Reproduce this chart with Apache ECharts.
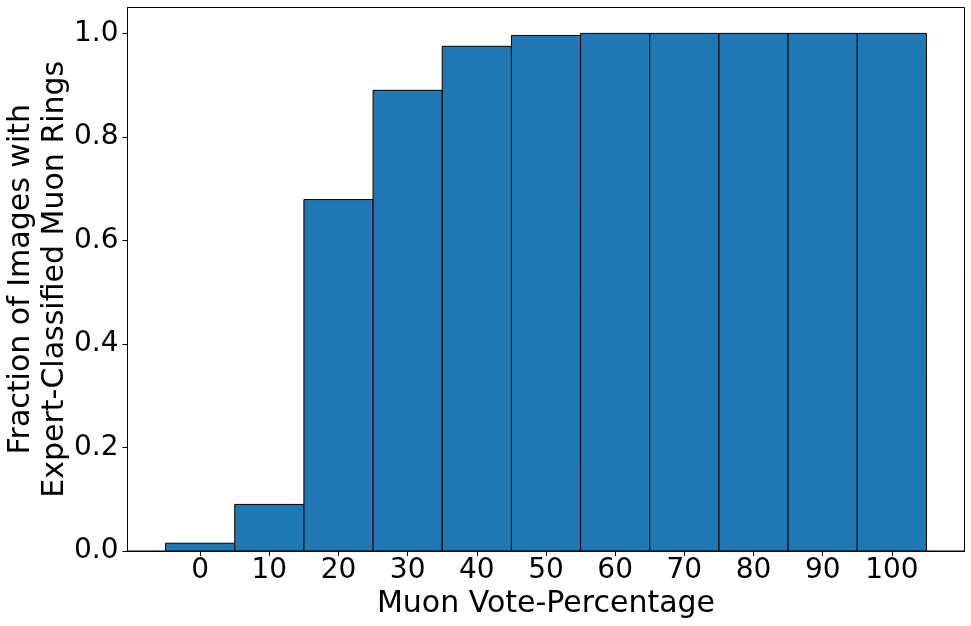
<!DOCTYPE html>
<html>
<head>
<meta charset="utf-8">
<script src="https://cdn.jsdelivr.net/npm/echarts@6/dist/echarts.min.js"></script>
<style>
html,body{margin:0;padding:0;background:#fff;}
#chart{width:971px;height:626px;}
</style>
</head>
<body>
<div id="chart"></div>
<script>
// Data
const votePercent = [0, 10, 20, 30, 40, 50, 60, 70, 80, 90, 100];
const fraction = [0.015, 0.090, 0.679, 0.890, 0.975, 0.996, 1.0, 1.0, 1.0, 1.0, 1.0];
const xTicks = [0, 10, 20, 30, 40, 50, 60, 70, 80, 90, 100];
const yTicks = [0, 0.2, 0.4, 0.6, 0.8, 1.0];
const binWidth = 10;

const chart = echarts.init(document.getElementById('chart'), null, {renderer: 'canvas'});
const font = 'DejaVu Sans';
chart.setOption({
  animation: false,
  backgroundColor: '#fff',
  grid: {left: 127.5, right: 6.5, top: 7.5, bottom: 75, containLabel: false, outerBoundsMode: 'none',
    show: true, borderColor: '#000', borderWidth: 1, backgroundColor: 'transparent'},
  xAxis: {
    type: 'value', min: -10.5, max: 110.5,
    name: 'Muon Vote-Percentage', nameLocation: 'middle', nameGap: 38, nameMoveOverlap: false,
    nameTextStyle: {fontFamily: font, fontSize: 30, color: '#000'},
    axisLine: {show: true, onZero: false, lineStyle: {color: '#000', width: 1}},
    axisTick: {show: true, inside: false, length: 5, customValues: xTicks, lineStyle: {color: '#000'}},
    axisLabel: {customValues: xTicks, fontFamily: font, fontSize: 28, color: '#000', margin: 6},
    splitLine: {show: false}
  },
  yAxis: {
    type: 'value', min: 0, max: 1.05,
    name: 'Fraction of Images with\nExpert-Classified Muon Rings', nameLocation: 'middle', nameGap: 55, nameMoveOverlap: false,
    nameTextStyle: {fontFamily: font, fontSize: 30, color: '#000', lineHeight: 34},
    axisLine: {show: true, onZero: false, lineStyle: {color: '#000', width: 1}},
    axisTick: {show: true, inside: false, length: 5, customValues: yTicks, lineStyle: {color: '#000'}},
    axisLabel: {customValues: yTicks, fontFamily: font, fontSize: 28, color: '#000', margin: 9,
      formatter: v => v.toFixed(1)},
    splitLine: {show: false}
  },
  series: [{
    type: 'custom',
    data: votePercent.map((x, i) => [x, fraction[i]]),
    encode: {x: 0, y: 1},
    renderItem: function (params, api) {
      const x = api.value(0), y = api.value(1);
      const p1 = api.coord([x - binWidth / 2, y]);
      const p2 = api.coord([x + binWidth / 2, 0]);
      return {
        type: 'rect',
        shape: {x: p1[0], y: p1[1], width: p2[0] - p1[0], height: p2[1] - p1[1]},
        style: {fill: '#1f77b4', stroke: '#000', lineWidth: 1}
      };
    }
  }]
});
</script>
</body>
</html>
